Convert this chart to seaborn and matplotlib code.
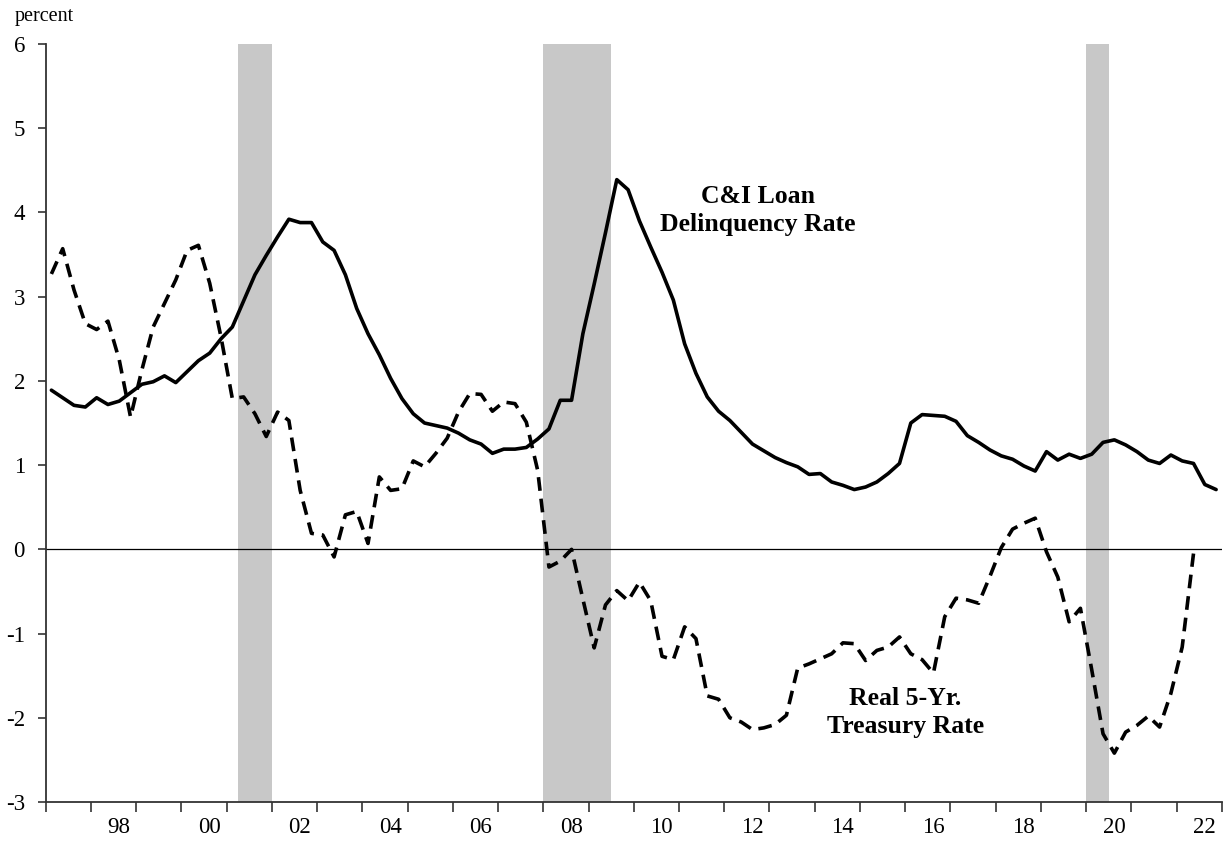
import numpy as np
import pandas as pd
import seaborn as sns
import matplotlib.pyplot as plt

# quarterly data, 1997Q1 - 2022Q4
start_year = 1997
n_quarters = 104

delinquency = [1.89, 1.80, 1.71, 1.69, 1.80, 1.72, 1.76, 1.86, 1.96, 1.99, 2.06, 1.98,
               2.11, 2.24, 2.33, 2.50, 2.64, 2.95, 3.26, 3.49, 3.71, 3.92, 3.88, 3.88,
               3.65, 3.55, 3.26, 2.86, 2.56, 2.31, 2.03, 1.79, 1.61, 1.50, 1.47, 1.44,
               1.38, 1.30, 1.25, 1.14, 1.19, 1.19, 1.21, 1.31, 1.43, 1.77, 1.77, 2.56,
               3.15, 3.76, 4.39, 4.27, 3.90, 3.59, 3.29, 2.96, 2.44, 2.09, 1.81, 1.64,
               1.53, 1.39, 1.25, 1.17, 1.09, 1.03, 0.98, 0.89, 0.90, 0.80, 0.76, 0.71,
               0.74, 0.80, 0.90, 1.02, 1.50, 1.60, 1.59, 1.58, 1.52, 1.35, 1.27, 1.18,
               1.11, 1.07, 0.99, 0.93, 1.16, 1.06, 1.13, 1.08, 1.13, 1.27, 1.30, 1.24,
               1.16, 1.06, 1.02, 1.12, 1.05, 1.02, 0.77, 0.71]

real_5yr = [3.27, 3.57, 3.08, 2.68, 2.61, 2.71, 2.25, 1.57, 2.13, 2.64, 2.92, 3.20,
            3.55, 3.61, 3.16, 2.52, 1.79, 1.81, 1.61, 1.34, 1.63, 1.53, 0.70, 0.19,
            0.17, -0.09, 0.41, 0.45, 0.07, 0.86, 0.70, 0.72, 1.05, 0.98, 1.14, 1.32,
            1.63, 1.85, 1.84, 1.64, 1.75, 1.73, 1.51, 0.94, -0.21, -0.14, 0.00, -0.59,
            -1.17, -0.66, -0.49, -0.61, -0.39, -0.61, -1.27, -1.31, -0.92, -1.06, -1.74, -1.78,
            -2.00, -2.05, -2.14, -2.12, -2.08, -1.97, -1.41, -1.36, -1.30, -1.24, -1.11, -1.12,
            -1.32, -1.20, -1.16, -1.04, -1.24, -1.31, -1.47, -0.80, -0.58, -0.60, -0.64, -0.32,
            0.02, 0.24, 0.31, 0.37, -0.03, -0.33, -0.86, -0.70, -1.43, -2.19, -2.42, -2.17,
            -2.09, -1.98, -2.11, -1.71, -1.16, -0.05, np.nan, np.nan]

# recessions (start, end) in decimal years
recessions = [(2001.25, 2002.0), (2008.0, 2009.5), (2020.0, 2020.5)]

year_labels = ['98', '00', '02', '04', '06', '08', '10', '12', '14', '16', '18', '20', '22']
label_years = [1998, 2000, 2002, 2004, 2006, 2008, 2010, 2012, 2014, 2016, 2018, 2020, 2022]

df = pd.DataFrame({
    't': start_year + (np.arange(n_quarters) + 0.5) / 4,
    'deli': delinquency,
    'real': real_5yr,
})

sns.set_style('white')
plt.rcParams['font.family'] = ['Liberation Serif', 'DejaVu Serif']
plt.rcParams['text.color'] = 'black'
plt.rcParams['xtick.color'] = 'black'
plt.rcParams['ytick.color'] = 'black'

fig = plt.figure(figsize=(12.23, 8.42), dpi=100)
ax = fig.add_axes([0.0374, 0.0475, 0.9616, 0.9002])

for s, e in recessions:
    ax.axvspan(s, e, color='#c8c8c8', lw=0, zorder=0)

ax.axhline(0, color='black', lw=0.9, zorder=1)

sns.lineplot(data=df, x='t', y='deli', color='black', lw=2.6, estimator=None,
             ax=ax, zorder=3)
sns.lineplot(data=df.dropna(), x='t', y='real', color='black', lw=2.6, estimator=None,
             linestyle=(0, (3.8, 2.2)), ax=ax, zorder=3)

ax.set_xlim(1997, 2023)
ax.set_ylim(-3, 6)
ax.set_xlabel('')
ax.set_ylabel('')

ax.set_yticks(range(-3, 7))
ax.set_yticklabels([str(v) for v in range(-3, 7)], fontsize=16.5)
ax.set_xticks(range(1997, 2024))
ax.set_xticklabels([])
ax.set_xticks([y + 0.62 for y in label_years], minor=True)
ax.set_xticklabels(year_labels, minor=True, fontsize=16.5)

ax.tick_params(axis='y', which='major', direction='out', length=6, width=1.2,
               color='#333333', left=True, pad=9)
ax.tick_params(axis='x', which='major', direction='out', length=7, width=1.2,
               color='#333333', bottom=True)
ax.tick_params(axis='x', which='minor', length=0, pad=11)

for side in ['top', 'right']:
    ax.spines[side].set_visible(False)
for side in ['left', 'bottom']:
    ax.spines[side].set_color('#333333')
    ax.spines[side].set_linewidth(1.3)

ax.text(2012.75, 4.02, 'C&I Loan\nDelinquency Rate', ha='center', va='center',
        fontsize=18.5, fontweight='bold', linespacing=1.3)
ax.text(2016.0, -1.94, 'Real 5-Yr.\nTreasury Rate', ha='center', va='center',
        fontsize=18.5, fontweight='bold', linespacing=1.3)

fig.text(15 / 1223, 1 - 16 / 842, 'percent', ha='left', va='center', fontsize=14.5)

fig.savefig('out.png', dpi=100)
